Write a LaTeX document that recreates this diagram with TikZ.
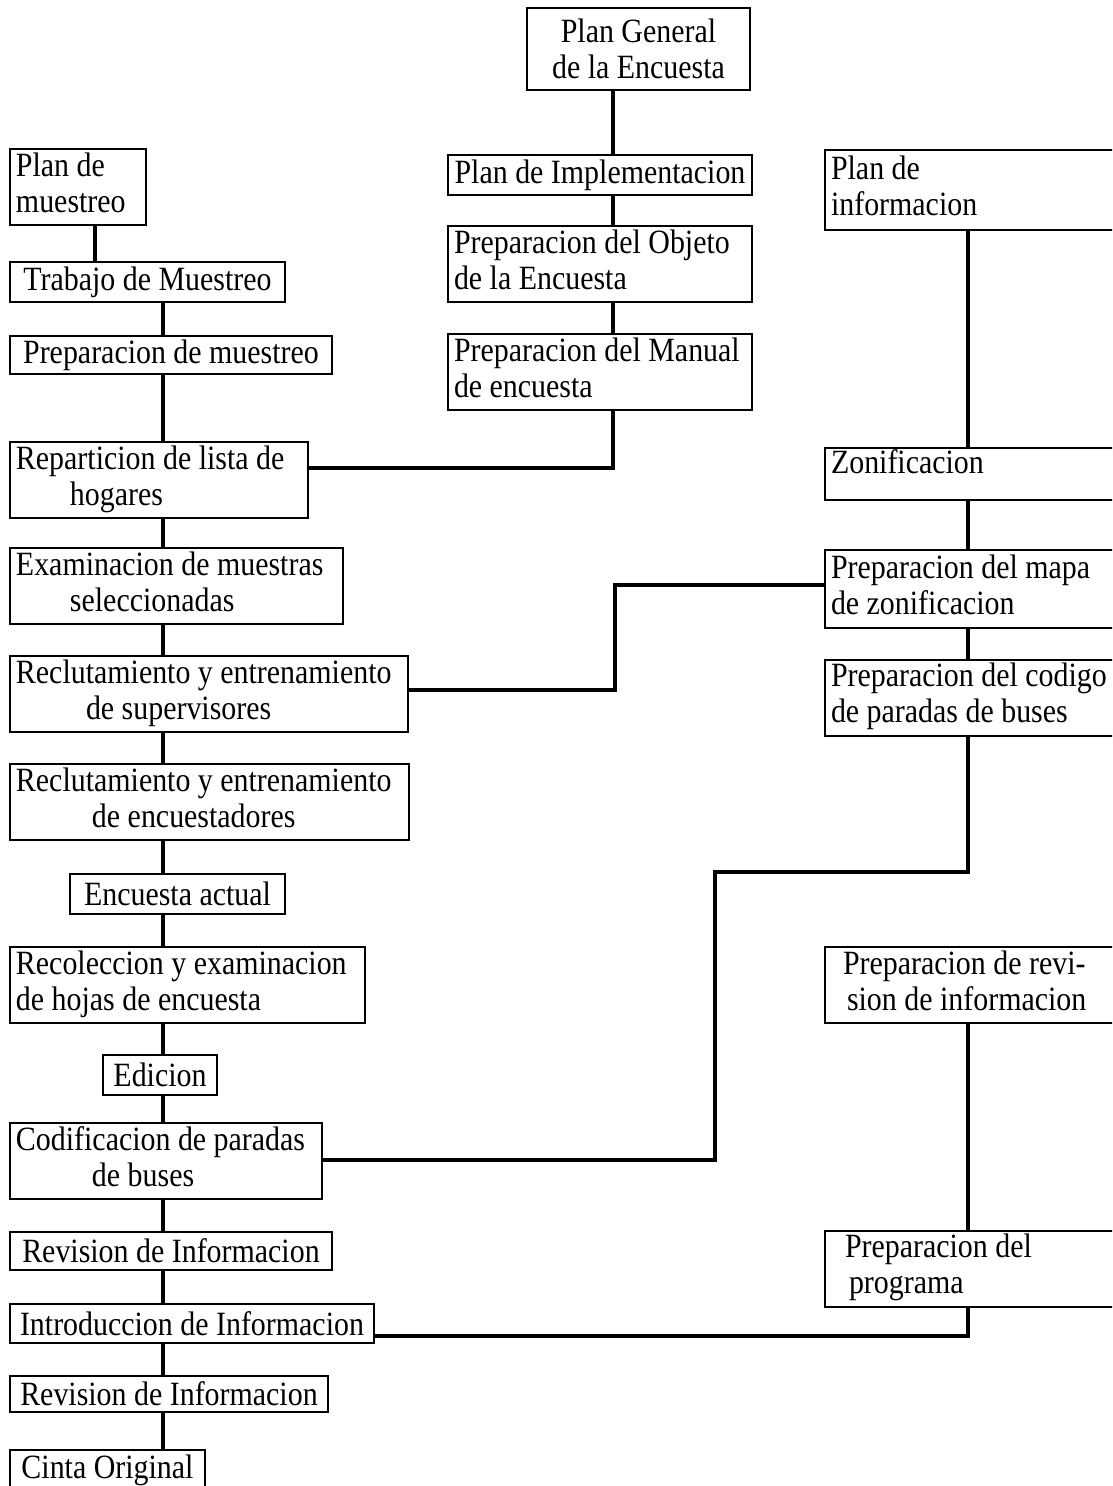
\documentclass[tikz,border=0pt]{standalone}
\usepackage{fontspec}
\setmainfont{Liberation Serif}[FakeStretch=0.88]
\newcommand\boxlines[1]{\spaceskip=0pt\xspaceskip=0pt\relax\begin{tabular}{@{}l@{}}#1\end{tabular}}
\begin{document}
\begin{tikzpicture}[x=0.5pt,y=-0.5pt,
  box/.style={draw, line width=1pt, rectangle, inner xsep=3pt, inner ysep=1pt,
    font=\fontsize{17}{18}\selectfont, align=left},
  cbox/.style={box, align=center},
  conn/.style={line width=1.7pt}]
\clip (0,0) rectangle (1112,1486);
% left column
\node[box, minimum width=68pt, minimum height=37.5pt, text width=62pt] (pm) at (78,187.5) {\boxlines{Plan de\\muestreo}};
\node[cbox, minimum width=137.5pt, minimum height=20pt] (tm) at (147.5,282) {Trabajo de Muestreo};
\node[cbox, minimum width=161pt, minimum height=19pt] (prm) at (171,355) {Preparacion de muestreo};
\node[box, minimum width=149pt, minimum height=34pt, text width=143pt] (rl) at (159,480) {\boxlines{Reparticion de lista de\\\hspace*{27pt}hogares}};
\node[box, minimum width=166.5pt, minimum height=36pt, text width=160.5pt] (em) at (176.5,586) {\boxlines{Examinacion de muestras\\\hspace*{27pt}seleccionadas}};
\node[box, minimum width=199pt, minimum height=36pt, text width=193pt] (rs) at (209,694) {\boxlines{Reclutamiento y entrenamiento\\\hspace*{35pt}de supervisores}};
\node[box, minimum width=199.5pt, minimum height=36pt, text width=193.5pt] (re) at (209.5,802) {\boxlines{Reclutamiento y entrenamiento\\\hspace*{38pt}de encuestadores}};
\node[cbox, minimum width=107.5pt, minimum height=20pt] (ea) at (177.5,894) {Encuesta actual};
\node[box, minimum width=177.5pt, minimum height=35pt, text width=171.5pt] (rcx) at (187.5,985) {\boxlines{Recoleccion y examinacion\\de hojas de encuesta}};
\node[cbox, minimum width=57pt, minimum height=20pt] (ed) at (160,1075) {Edicion};
\node[box, minimum width=156pt, minimum height=34pt, text width=150pt] (cp) at (166,1161) {\boxlines{Codificacion de paradas\\\hspace*{38pt}de buses}};
\node[cbox, minimum width=161pt, minimum height=19pt] (ri1) at (171,1251) {Revision de Informacion};
\node[cbox, minimum width=182pt, minimum height=19.5pt] (ii) at (192,1323.5) {Introduccion de Informacion};
\node[cbox, minimum width=159pt, minimum height=18pt] (ri2) at (169,1394) {Revision de Informacion};
\node[cbox, minimum width=97.5pt, minimum height=20pt] (co) at (107.5,1470) {Cinta Original};
% middle column
\node[cbox, minimum width=111.5pt, minimum height=41pt] (pg) at (638.5,49) {Plan General\\de la Encuesta};
\node[cbox, minimum width=152pt, minimum height=20pt] (pi) at (600,175) {Plan de Implementacion};
\node[box, minimum width=152pt, minimum height=36pt, text width=146pt] (po) at (600,264) {\boxlines{Preparacion del Objeto\\de la Encuesta}};
\node[box, minimum width=152pt, minimum height=36pt, text width=146pt] (pmn) at (600,372) {\boxlines{Preparacion del Manual\\de encuesta}};
% right column
\node[box, minimum width=157.5pt, minimum height=40pt, text width=151.5pt] (pinf) at (982.5,190) {\boxlines{Plan de\\informacion}};
\node[box, minimum width=157.5pt, minimum height=26pt, text width=151.5pt, text depth=12pt] (zo) at (982.5,474) {Zonificacion};
\node[box, minimum width=157.5pt, minimum height=39pt, text width=151.5pt] (mapa) at (982.5,589) {\boxlines{Preparacion del mapa\\de zonificacion}};
\node[box, minimum width=157.5pt, minimum height=37.5pt, text width=151.5pt] (cod) at (982.5,697.5) {\boxlines{Preparacion del codigo\\de paradas de buses}};
\node[box, minimum width=157.5pt, minimum height=37pt, text width=151.5pt] (rev) at (982.5,985) {\boxlines{\hspace*{6pt}Preparacion de revi-\\\hspace*{8pt}sion de informacion}};
\node[box, minimum width=157.5pt, minimum height=36.5pt, text width=151.5pt] (prog) at (982.5,1268.5) {\boxlines{\hspace*{7pt}Preparacion del\\\hspace*{9pt}programa}};
% column coordinates
\coordinate (lx0) at (95,0);
\coordinate (lx) at (163,0);
\coordinate (mx) at (613,0);
\coordinate (rcol) at (968,0);
\coordinate (j1) at (613,468);
\coordinate (j2a) at (615,690);
\coordinate (j2b) at (615,585);
\coordinate (j3a) at (968,872);
\coordinate (j3b) at (715,872);
\coordinate (j3c) at (715,1160);
\coordinate (j4) at (968,1336);
% left connectors
\draw[conn] (pm.south -| lx0) -- (tm.north -| lx0);
\foreach \a/\b in {tm/prm, prm/rl, rl/em, em/rs, rs/re, re/ea, ea/rcx, rcx/ed, ed/cp, cp/ri1, ri1/ii, ii/ri2, ri2/co}
  \draw[conn] (\a.south -| lx) -- (\b.north -| lx);
% middle connectors
\foreach \a/\b in {pg/pi, pi/po, po/pmn}
  \draw[conn] (\a.south -| mx) -- (\b.north -| mx);
\draw[conn] (pmn.south -| j1) -- (j1) -- (j1 -| rl.east);
% right connectors
\foreach \a/\b in {pinf/zo, zo/mapa, mapa/cod, rev/prog}
  \draw[conn] (\a.south -| rcol) -- (\b.north -| rcol);
\draw[conn] (j2a -| rs.east) -- (j2a) -- (j2b) -- (j2b -| mapa.west);
\draw[conn] (cod.south -| j3a) -- (j3a) -- (j3b) -- (j3c) -- (j3c -| cp.east);
\draw[conn] (prog.south -| j4) -- (j4) -- (j4 -| ii.east);
\end{tikzpicture}
\end{document}
